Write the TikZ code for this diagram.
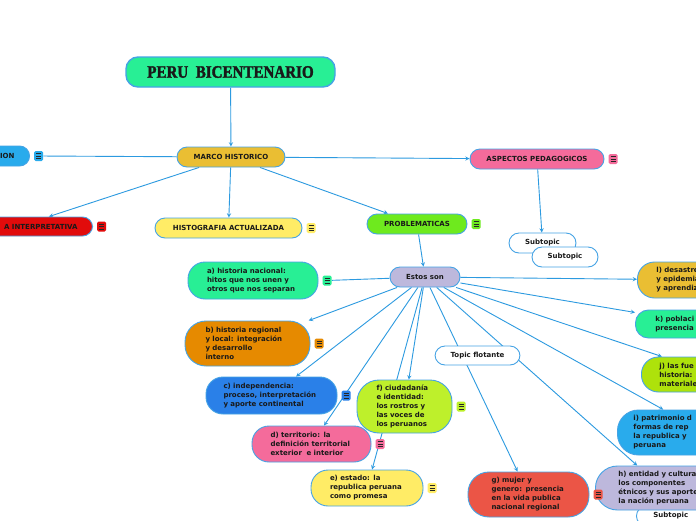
\documentclass[tikz,border=0pt]{standalone}
\usepackage{fontspec}
\newfontfamily\mapfont{DejaVu Sans}
\newfontfamily\titlefont{Liberation Serif}[FakeStretch=0.86, FakeBold=2]
\usetikzlibrary{positioning}
\usetikzlibrary{backgrounds}
\definecolor{bdr}{HTML}{45A3E5}
\definecolor{lnk}{HTML}{2C9AE0}
\definecolor{cgold}{HTML}{EABE33}
\definecolor{cpink}{HTML}{F46B9B}
\definecolor{cyel}{HTML}{FFEC66}
\definecolor{cgreen}{HTML}{6EEA1E}
\definecolor{clav}{HTML}{BDB8DC}
\definecolor{cmint}{HTML}{28EF95}
\definecolor{corange}{HTML}{E68A00}
\definecolor{cblue}{HTML}{2A80E8}
\definecolor{csky}{HTML}{29ABEC}
\definecolor{clime}{HTML}{BEF02B}
\definecolor{clime2}{HTML}{AEE20B}
\definecolor{cred}{HTML}{E10B0B}
\definecolor{ctomato}{HTML}{EB5546}
\tikzset{
  topic/.style={draw=bdr, line width=0.9pt, rounded corners=#1, text=black!90,
    font=\mapfont\bfseries\fontsize{7}{9}\selectfont, align=left,
    inner xsep=0pt, inner ysep=0pt},
  topic/.default=10pt,
  menu/.style={fill=#1, rounded corners=1.5pt, minimum width=9pt, minimum height=10pt,
    inner sep=0pt, path picture={
      \foreach \yy in {-2.5,0,2.5}
        \draw[line width=0.6pt, black!85] ([xshift=-2.6pt,yshift=\yy pt]path picture bounding box.center) -- ++(5.2pt,0pt);}},
  link/.style={draw=lnk, line width=0.9pt}
}
\begin{document}
\begin{tikzpicture}[>=stealth, x=1pt, y=-1pt]
                \useasboundingbox (0,0) rectangle (696,520);
                % main branch
                \node[topic=12pt, fill=cmint, line width=1.4pt, minimum width=209pt, minimum height=30pt,
                      font=\titlefont\bfseries\fontsize{17.5}{20}\selectfont] (title) at (230.5,72) {PERU\ \ BICENTENARIO};
                \node[topic, fill=cgold, minimum width=108pt, minimum height=20pt] (marco) at (231,157) {MARCO HISTORICO};
                \node[topic, fill=cpink, minimum width=134pt, minimum height=20pt] (aspectos) at (537,159) {ASPECTOS PEDAGOGICOS};
                \node[topic, fill=cyel, minimum width=147pt, minimum height=20pt] (histo) at (228.5,228) {HISTOGRAFIA ACTUALIZADA};
                \node[topic, fill=cgreen, minimum width=100pt, minimum height=20pt] (prob) at (417,224) {PROBLEMATICAS};
                \node[topic, fill=clav, minimum width=70pt, minimum height=20pt] (estos) at (425,277) {Estos son};
                \node[topic, fill=csky, anchor=east, minimum height=20pt, text width=60pt, align=right, inner xsep=15pt] (ion) at (30,156) {ION};
                \node[topic, fill=cred, anchor=east, minimum height=19pt, text width=118pt, align=right, inner xsep=15pt] (interp) at (93,226.5) {A INTERPRETATIVA};
                % subtopics
                \node[topic, fill=white, minimum width=67pt, minimum height=20pt] (sub1) at (542.5,243) {Subtopic};
                \node[topic, fill=white, minimum width=66pt, minimum height=20pt] (sub2) at (565,257) {Subtopic};
                \node[topic, fill=white, minimum width=85pt, minimum height=19pt] (flot) at (477.5,355.5) {Topic flotante};
                % problematicas
                \node[topic=17pt, fill=cmint, minimum width=130pt, minimum height=37pt, text width=92pt] (nac) at (253,280.5)
                      {a) historia nacional:\\hitos que nos unen y\\otros que nos separan};
                \node[topic=21pt, fill=corange, minimum width=125pt, minimum height=45pt, text width=84pt] (reg) at (247.5,343.5)
                      {b) historia regional\\y local: integración\\y desarrollo\\interno};
                \node[topic=17pt, fill=cblue, minimum width=131pt, minimum height=37pt, text width=96pt] (indep) at (271.5,395.5)
                      {c) independencia:\\proceso, interpretación\\y aporte continental};
                \node[topic=17pt, fill=cpink, minimum width=119pt, minimum height=36pt, text width=82pt] (terr) at (311.5,444)
                      {d) territorio: la\\definición territorial\\exterior\ \ e interior};
                \node[topic=17pt, fill=cyel, minimum width=112pt, minimum height=36pt, text width=74pt] (estado) at (367,488)
                      {e) estado: la\\republica peruana\\como promesa};
                \node[topic=22pt, fill=clime, minimum width=95pt, minimum height=53pt, text width=56pt] (ciud) at (404.5,406.5)
                      {f) ciudadanía\\e identidad:\\los rostros y\\las voces de\\los peruanos};
                \node[topic=21pt, fill=ctomato, minimum width=121pt, minimum height=45pt, text width=74pt] (mujer) at (528.5,494.5)
                      {g) mujer y\\genero: presencia\\en la vida publica\\nacional regional};
                \node[topic, fill=white, anchor=west, minimum height=20pt, text width=80pt, inner xsep=17pt] (subbot) at (636,516) {Subtopic};
                \node[topic=22pt, fill=clav, anchor=west, minimum height=44pt, text width=88pt, inner xsep=23pt] (etnia) at (595,488)
                      {h) entidad y cultura\\los componentes\\étnicos y sus aporte\\la nación peruana};
                \node[topic=21pt, fill=csky, anchor=west, minimum height=45pt, text width=142pt, inner xsep=16pt] (patri) at (617,432.5)
                      {i) patrimonio d\\formas de rep\\la republica y\\peruana};
                \node[topic=17pt, fill=clime2, anchor=west, minimum height=35pt, text width=112pt, inner xsep=18pt] (fuentes) at (641,374.5)
                      {j) las fue\\historia:\\materiale};
                \node[topic=13pt, fill=cmint, anchor=west, minimum height=28pt, text width=96pt, inner xsep=20pt] (pobl) at (635,324)
                      {k) poblaci\\presencia};
                \node[topic=17pt, fill=cgold, anchor=west, minimum height=36pt, text width=102pt, inner xsep=19pt] (desas) at (637,280)
                      {l) desastre\\y epidemia\\y aprendiz};
                % notes
                \node[menu=csky, right=4pt of ion] (ion-m) {};
                \node[menu=cred, right=4pt of interp] (interp-m) {};
                \node[menu=cyel, right=4pt of histo] (histo-m) {};
                \node[menu=cgreen, right=4pt of prob] (prob-m) {};
                \node[menu=cpink, right=4pt of aspectos] (aspectos-m) {};
                \node[menu=cmint, right=4pt of nac] (nac-m) {};
                \node[menu=corange, right=4pt of reg] (reg-m) {};
                \node[menu=cblue, right=4pt of indep] (indep-m) {};
                \node[menu=cpink, right=4pt of terr] (terr-m) {};
                \node[menu=cyel, right=4pt of estado] (estado-m) {};
                \node[menu=clime, right=4pt of ciud] (ciud-m) {};
                \node[menu=ctomato, right=4pt of mujer] (mujer-m) {};
                \begin{scope}[on background layer]
                \fill[white] (0,0) rectangle (696,520);
                \draw[link,->] (title) -- (marco);
                \draw[link] (marco) -- (ion-m);
                \draw[link,->] (marco) -- (interp);
                \draw[link,->] (marco) -- (histo);
                \draw[link,->] (marco) -- (prob);
                \draw[link,->] (marco) -- (aspectos);
                \draw[link,->] (aspectos) -- (sub1);
                \draw[link,->] (prob) -- (estos);
                \draw[link] (estos) -- (nac-m);
                \foreach \t in {reg,indep,terr,estado,ciud,mujer,etnia,patri,fuentes,pobl,desas}
                    \draw[link,->] (estos) -- (\t);
                \draw[link,->] (patri) -- (subbot);
                \end{scope}
            \end{tikzpicture}
\end{document}
